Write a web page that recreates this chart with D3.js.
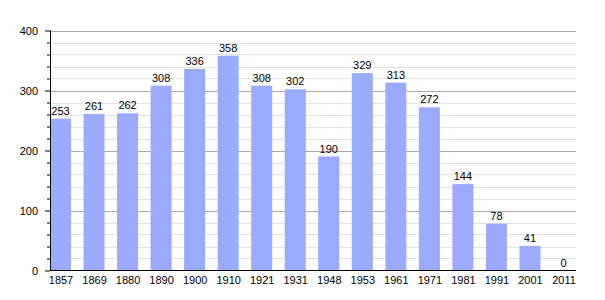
<html lang="fr">
<head>
    <meta charset="UTF-8">
    <title>population</title>
    <style>
        body { margin: 0; background: #fff; }
        text { font-family: "Liberation Sans", Arial, sans-serif; font-size: 11px; fill: #000; }
    </style>
</head>
<body>
<script src="https://cdn.jsdelivr.net/npm/d3@7"></script>
<script>
    var years = ["1857","1869","1880","1890","1900","1910","1921","1931","1948","1953","1961","1971","1981","1991","2001","2011"];
    var population = [253, 261, 262, 308, 336, 358, 308, 302, 190, 329, 313, 272, 144, 78, 41, 0];
    var yTicks = [0, 100, 200, 300, 400];

    var svg = d3.select("body").append("svg").attr("width", 605).attr("height", 300);

    var plotLeft = 50, plotRight = 576, plotTop = 30.5, plotBottom = 270.5;
    var barWidth = 21;

    var x = d3.scalePoint().domain(years).range([60.5, 563.5]);
    var y = d3.scaleLinear().domain([0, 400]).range([plotBottom, plotTop]);
    var minor = d3.range(20, 400, 20).filter(function(v){ return v % 100 != 0; });

    // minor grid every 20
    svg.append("g").selectAll("line").data(minor)
        .enter().append("line")
        .attr("x1", plotLeft).attr("x2", plotRight)
        .attr("y1", function(d){ return Math.round(y(d)) + 0.5; })
        .attr("y2", function(d){ return Math.round(y(d)) + 0.5; })
        .attr("stroke", "#e2e2e2");

    // major grid
    svg.append("g").selectAll("line").data(yTicks.slice(1))
        .enter().append("line")
        .attr("x1", plotLeft).attr("x2", plotRight)
        .attr("y1", function(d){ return Math.round(y(d)) + 0.5; })
        .attr("y2", function(d){ return Math.round(y(d)) + 0.5; })
        .attr("stroke", "#aaaaaa");

    // bars
    svg.append("g").selectAll("rect").data(population).enter().append("rect")
        .attr("x", function(d, i){ return x(years[i]) - barWidth / 2; })
        .attr("y", function(d){ return y(d); })
        .attr("width", barWidth)
        .attr("height", function(d){ return plotBottom - y(d); })
        .attr("fill", "#99aaff");

    // value labels
    svg.append("g").selectAll("text").data(population).enter().append("text")
        .attr("x", function(d, i){ return x(years[i]); })
        .attr("y", function(d){ return y(d) - 4; })
        .attr("text-anchor", "middle")
        .text(function(d){ return d; });

    // y axis
    var yAxis = d3.axisLeft(y).tickValues(yTicks).tickSize(5).tickPadding(7).tickFormat(d3.format("d"));
    var gy = svg.append("g").attr("transform", "translate(" + plotLeft + ",0)").call(yAxis);
    gy.select(".domain").remove();
    gy.selectAll("text").style("font-size", "11px").style("font-family", "Liberation Sans, Arial, sans-serif");
    var yMinor = d3.axisLeft(y).tickValues(minor).tickSize(3).tickFormat("");
    var gym = svg.append("g").attr("transform", "translate(" + plotLeft + ",0)").call(yMinor);
    gym.select(".domain").remove();
    svg.append("line").attr("x1", plotLeft + 0.5).attr("x2", plotLeft + 0.5).attr("y1", plotTop).attr("y2", plotBottom)
        .attr("stroke", "#000");

    // x axis
    var xAxis = d3.axisBottom(x).tickSize(0).tickPadding(6);
    var gx = svg.append("g").attr("transform", "translate(0," + plotBottom + ")").call(xAxis);
    gx.select(".domain").remove();
    gx.selectAll("text").style("font-size", "11px").style("font-family", "Liberation Sans, Arial, sans-serif");
    svg.append("line").attr("x1", plotLeft).attr("x2", plotRight).attr("y1", plotBottom).attr("y2", plotBottom)
        .attr("stroke", "#000");
</script>
</body>
</html>
